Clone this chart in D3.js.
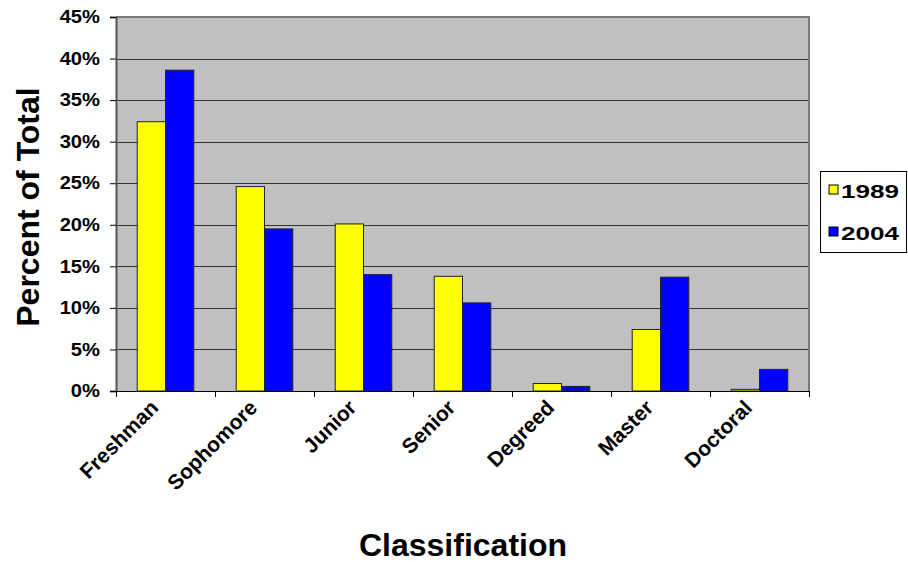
<!DOCTYPE html>
<html>
<head>
<meta charset="utf-8">
<script src="https://cdn.jsdelivr.net/npm/d3@7"></script>
<style>
  html, body { margin: 0; padding: 0; background: #fff; }
  svg { display: block; font-family: "Liberation Sans", Arial, sans-serif; }
</style>
</head>
<body>
<svg id="chart" width="908" height="562"></svg>
<script>
// Enrollment share by classification, two survey years
const categories = ["Freshman", "Sophomore", "Junior", "Senior", "Degreed", "Master", "Doctoral"];
const seriesNames = ["1989", "2004"];
const values1989 = [32.4, 24.6, 20.1, 13.8, 0.9, 7.4, 0.2];
const values2004 = [38.6, 19.5, 14.0, 10.6, 0.55, 13.7, 2.6];
const yTicks = [0, 5, 10, 15, 20, 25, 30, 35, 40, 45];
const colors = ["#FFFF00", "#0000FF"];

const svg = d3.select("#chart");
const plot = { left: 116, top: 17, right: 809, bottom: 391 };

const x = d3.scaleBand().domain(categories).range([plot.left, plot.right]).paddingInner(0).paddingOuter(0);
const xInner = d3.scaleBand().domain(seriesNames).range([0, x.bandwidth()]).paddingInner(0).paddingOuter(0.75);
const y = d3.scaleLinear().domain([0, 45]).range([plot.bottom, plot.top]);

// plot background
svg.append("rect")
  .attr("x", plot.left).attr("y", plot.top)
  .attr("width", plot.right - plot.left).attr("height", plot.bottom - plot.top)
  .attr("fill", "#C0C0C0");

// horizontal gridlines
svg.append("g").selectAll("line").data(yTicks.slice(1)).join("line")
  .attr("x1", plot.left).attr("x2", plot.right)
  .attr("y1", d => Math.round(y(d)) + 0.5).attr("y2", d => Math.round(y(d)) + 0.5)
  .attr("stroke", "#333").attr("stroke-width", 1);

// plot border (top / right)
svg.append("path")
  .attr("d", `M${plot.left},${plot.top} H${plot.right} V${plot.bottom}`)
  .attr("fill", "none").attr("stroke", "#7a7a7a").attr("stroke-width", 2);

// bars
const series = [values1989, values2004];
const groups = svg.append("g").selectAll("g").data(seriesNames).join("g")
  .attr("fill", (d, i) => colors[i]);
groups.each(function(name, si) {
  d3.select(this).selectAll("rect").data(categories).join("rect")
    .attr("x", c => x(c) + xInner(name))
    .attr("y", (c, i) => y(series[si][i]))
    .attr("width", xInner.bandwidth())
    .attr("height", (c, i) => plot.bottom - y(series[si][i]))
    .attr("stroke", "#222").attr("stroke-width", 1);
});

// y axis
const yAxis = d3.axisLeft(y).tickValues(yTicks).tickFormat(d => d + "%").tickSize(6).tickPadding(0);
const gy = svg.append("g").attr("transform", `translate(${plot.left},0)`).call(yAxis);
gy.select(".domain").attr("stroke", "#555").attr("stroke-width", 2);
gy.selectAll(".tick line").attr("stroke", "#000");
gy.selectAll("text")
  .attr("x", null)
  .attr("transform", "translate(-16,0) scale(1.12,1)")
  .attr("font-size", 18).attr("font-weight", "bold").attr("fill", "#000")
  .attr("font-family", "Liberation Sans, Arial, sans-serif");

// x axis baseline with ticks at category boundaries
svg.append("line")
  .attr("x1", plot.left).attr("x2", plot.right)
  .attr("y1", plot.bottom + 0.5).attr("y2", plot.bottom + 0.5)
  .attr("stroke", "#000").attr("stroke-width", 1);
const boundaries = categories.map(c => x(c)).concat([plot.right]);
svg.append("g").selectAll("line").data(boundaries).join("line")
  .attr("x1", d => Math.round(d) + 0.5).attr("x2", d => Math.round(d) + 0.5)
  .attr("y1", plot.bottom).attr("y2", plot.bottom + 6)
  .attr("stroke", "#000");

// rotated category labels
svg.append("g").selectAll("text").data(categories).join("text")
  .attr("transform", c => `translate(${x(c) + x.bandwidth() / 2 - 6},${plot.bottom + 18}) rotate(-45)`)
  .attr("text-anchor", "end")
  .attr("font-size", 21).attr("font-weight", "bold")
  .text(c => c);

// axis titles
svg.append("text")
  .attr("x", 463).attr("y", 556)
  .attr("text-anchor", "middle")
  .attr("font-size", 32).attr("font-weight", "bold")
  .text("Classification");
svg.append("text")
  .attr("transform", `translate(39,207) rotate(-90)`)
  .attr("text-anchor", "middle")
  .attr("font-size", 32).attr("font-weight", "bold")
  .text("Percent of Total");

// legend
const legend = svg.append("g").attr("transform", "translate(820,171)");
legend.append("rect").attr("x", 0.5).attr("y", 0.5).attr("width", 86).attr("height", 81)
  .attr("fill", "#fff").attr("stroke", "#000");
const items = legend.selectAll("g.item").data(seriesNames).join("g")
  .attr("transform", (d, i) => `translate(9,${14 + i * 42})`);
items.append("rect").attr("width", 9).attr("height", 9)
  .attr("fill", (d, i) => colors[i]).attr("stroke", "#000");
items.append("text")
  .attr("transform", "translate(12,13) scale(1.45,1)")
  .attr("font-size", 18).attr("font-weight", "bold")
  .text(d => d);
</script>
</body>
</html>
